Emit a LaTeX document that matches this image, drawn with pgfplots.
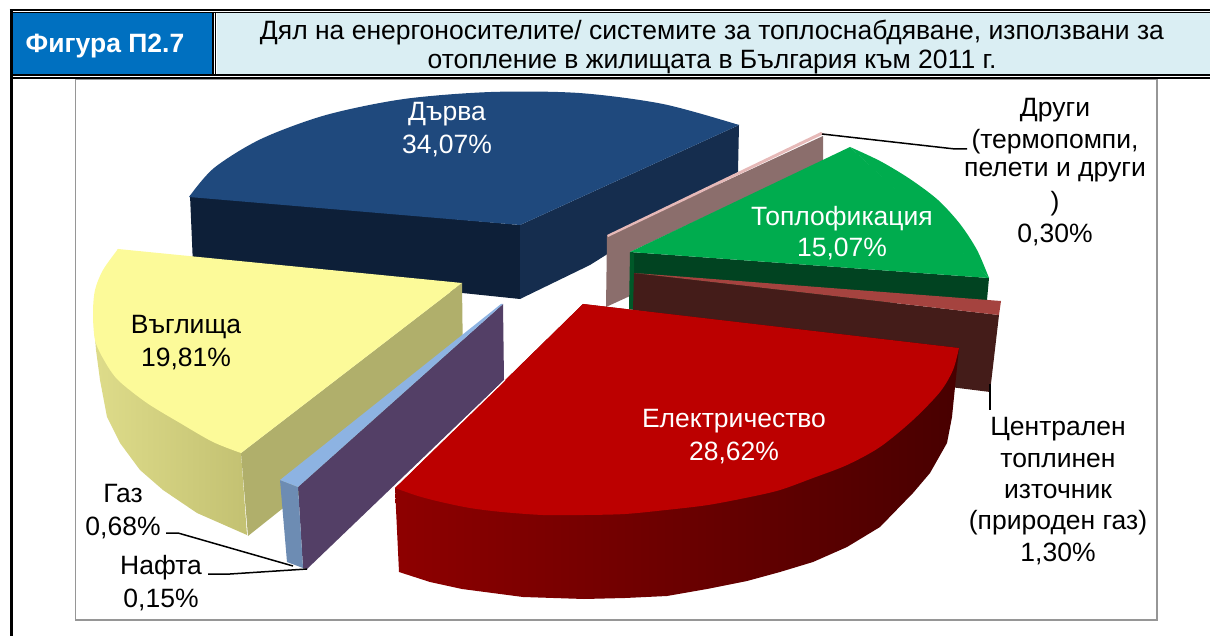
\documentclass[border=0pt]{standalone}
\usepackage{fontspec}
\setmainfont{Liberation Sans}
\usepackage{pgfplots}
\pgfplotsset{compat=1.18}
\definecolor{headblue}{HTML}{0070C0}
\definecolor{headlight}{HTML}{DAEEF3}
\definecolor{framegray}{HTML}{969696}
\definecolor{woodtop}{HTML}{1F497D}
\definecolor{woodleft}{HTML}{0D1F38}
\definecolor{woodright}{HTML}{152D4E}
\definecolor{pinktop}{HTML}{E6B9B8}
\definecolor{pinkside}{HTML}{8B6E6C}
\definecolor{greentop}{HTML}{00AC4E}
\definecolor{greenside}{HTML}{014321}
\definecolor{greenleft}{HTML}{005828}
\definecolor{browntop}{HTML}{A5433F}
\definecolor{brownside}{HTML}{441C19}
\definecolor{redtop}{HTML}{BC0000}
\definecolor{redsidea}{HTML}{8E0000}
\definecolor{redsideb}{HTML}{530000}
\definecolor{redsidec}{HTML}{480000}
\definecolor{coaltop}{HTML}{FCFA99}
\definecolor{coalcut}{HTML}{B0AF6B}
\definecolor{coalsidea}{HTML}{DEDC8A}
\definecolor{coalsideb}{HTML}{C3C172}
\definecolor{gastop}{HTML}{8DB3E2}
\definecolor{gasside}{HTML}{6D8CB3}
\definecolor{oilside}{HTML}{533F66}
\newcommand{\lbl}{\fontsize{26.5}{26.5}\selectfont}
\tikzset{lab/.style={font=\lbl, yshift=-2.5pt}}
\pgfplotsset{
  face/.style={fill=#1, draw=none},
  arc/.style={fill=#1, draw=none, smooth},
  leader/.style={draw=black, line width=1.5pt},
}
\begin{document}
\begin{tikzpicture}
\begin{axis}[
  scale only axis, width=1210pt, height=636pt,
  xmin=0, xmax=1210, ymin=0, ymax=636, y dir=reverse,
  hide axis, enlargelimits=false,
]
\path (axis cs:0,0) rectangle (axis cs:1210,636);
% header cells
\addplot[face=headblue] coordinates {(12.5,12.5) (212,12.5) (212,74) (12.5,74)};
\addplot[face=headlight] coordinates {(216.5,12.5) (1210,12.5) (1210,74) (216.5,74)};
\addplot[draw=black, line width=1.6pt] coordinates {(9.5,10.3) (1210,10.3)};
\addplot[draw=black, line width=0.8pt] coordinates {(12,12.1) (1210,12.1)};
\addplot[draw=black, line width=2pt] coordinates {(12,75) (1210,75)};
\addplot[draw=black, line width=1.3pt] coordinates {(12,78) (1210,78)};
\addplot[draw=black, line width=2pt] coordinates {(213,12) (213,76)};
\addplot[draw=black, line width=1pt] coordinates {(215.5,12) (215.5,76)};
\addplot[draw=black, line width=3pt] coordinates {(11,9.5) (11,636)};
% chart frame
\addplot[draw=framegray, line width=1.5pt] coordinates {(75.5,79.5) (1157,79.5) (1157,620) (75.5,620) (75.5,79.5)};
% Дърва
\addplot[face=woodleft] coordinates {(190,195) (520,225) (520,299) (193,265)};
\addplot[face=woodright] coordinates {(520,225) (739,125) (738,172) (590,265) (520,299)};
\addplot[face=woodtop] coordinates {(189,197) (520,225) (739,125) (491,120)};
\addplot[arc=woodtop] coordinates {(189,197) (214,168) (261,139) (326,115) (404,99) (491,92) (579,93) (663,104) (739,125)};
% Други
\addplot[face=pinkside] coordinates {(607,236) (823,136) (823,161) (630,252) (630,296) (606,307)};
\addplot[face=pinktop] coordinates {(607,235) (821,132) (824,134) (608,237)};
% Топлофикация
\addplot[face=greenside] coordinates {(630,252) (989,278) (987,300) (634,310)};
\addplot[face=greenleft] coordinates {(630,252) (634,254) (634,310) (629,309)};
\addplot[face=greentop] coordinates {(630,252) (850,147) (940,230) (989,278)};
\addplot[arc=greentop] coordinates {(850,147) (880,161) (910,179) (938,200) (960,224) (977,250) (989,278)};
% Централен топлинен източник
\addplot[face=brownside] coordinates {(634,273) (999,315) (990,392) (950,387) (900,345) (633,310)};
\addplot[face=browntop] coordinates {(634,273) (1001,301) (999,315)};
% Въглища
\addplot[left color=coalsidea, right color=coalsideb, draw=none] coordinates {(118,249) (93,313) (96,350) (100,380) (107,417) (120,443) (140,470) (163,490) (197,513) (247,535) (241,453)};
\addplot[face=coalcut] coordinates {(462,283) (241,453) (248,536) (463,365)};
\addplot[face=coaltop] coordinates {(118,249) (130,350) (241,453) (462,283)};
\addplot[arc=coaltop] coordinates {(118,249) (103,270) (95,290) (93,313) (95,340) (104,360) (118,380) (147,403) (180,423) (213,442) (241,453)};
% Нафта, Газ
\addplot[face=oilside] coordinates {(298,487) (503,304) (504,380) (307,569) (303,568)};
\addplot[face=gasside] coordinates {(280,480) (298,487) (303,568) (287,562)};
\addplot[face=gastop] coordinates {(280,480) (298,487) (503,304) (501,304)};
% Електричество
\addplot[left color=redsidea, middle color=redsideb, right color=redsidec, draw=none] coordinates {(395,488) (399,572) (430,582) (462,589) (523,597) (584,599) (625,598) (667,596) (707,589) (747,581) (780,572) (813,562) (847,547) (880,527) (913,493) (930,473) (947,443) (952,417) (955,387) (959,348) (583,304)};
\addplot[face=redtop] coordinates {(583,304) (959,348) (800,470) (395,488)};
\addplot[arc=redtop] coordinates {(959,348) (953,370) (940,392) (913,420) (880,447) (847,465) (813,478) (780,490) (750,497) (708,505) (666,510) (625,514) (584,515) (543,515) (502,512) (470,508) (441,502) (418,496) (395,488)};
\addplot[draw=white, line width=1pt] coordinates {(398,484) (505,380)};
% leader lines
\addplot[leader] coordinates {(822,134) (955,149) (967,149)};
\addplot[leader] coordinates {(990,384) (990,410)};
\addplot[leader] coordinates {(166,533) (178,533) (293,566)};
\addplot[leader] coordinates {(208,574) (230,574) (307,569)};
% header text
\node[lab, font=\lbl\bfseries, text=white] at (axis cs:105,44) {Фигура П2.7};
\node[lab] at (axis cs:712,30) {Дял на енергоносителите/ системите за топлоснабдяване, използвани за};
\node[lab] at (axis cs:712,60) {отопление в жилищата в България към 2011 г.};
% data labels
\node[lab, text=white] at (axis cs:447,112) {Дърва};
\node[lab, text=white] at (axis cs:447,143) {34,07\%};
\node[lab, text=white] at (axis cs:842,216) {Топлофикация};
\node[lab, text=white] at (axis cs:842,246) {15,07\%};
\node[lab, text=white] at (axis cs:734,419) {Електричество};
\node[lab, text=white] at (axis cs:734,450) {28,62\%};
\node[lab] at (axis cs:186,325) {Въглища};
\node[lab] at (axis cs:186,356) {19,81\%};
\node[lab] at (axis cs:1055,108) {Други};
\node[lab] at (axis cs:1055,139) {(термопомпи,};
\node[lab] at (axis cs:1055,170) {пелети и други};
\node[lab] at (axis cs:1055,201) {)};
\node[lab] at (axis cs:1055,232) {0,30\%};
\node[lab] at (axis cs:1058,427) {Централен};
\node[lab] at (axis cs:1058,458) {топлинен};
\node[lab] at (axis cs:1058,489) {източник};
\node[lab] at (axis cs:1058,520) {(природен газ)};
\node[lab] at (axis cs:1058,551) {1,30\%};
\node[lab] at (axis cs:123,491) {Газ};
\node[lab] at (axis cs:123,525) {0,68\%};
\node[lab] at (axis cs:161,565) {Нафта};
\node[lab] at (axis cs:161,597) {0,15\%};
\end{axis}
\end{tikzpicture}
\end{document}
